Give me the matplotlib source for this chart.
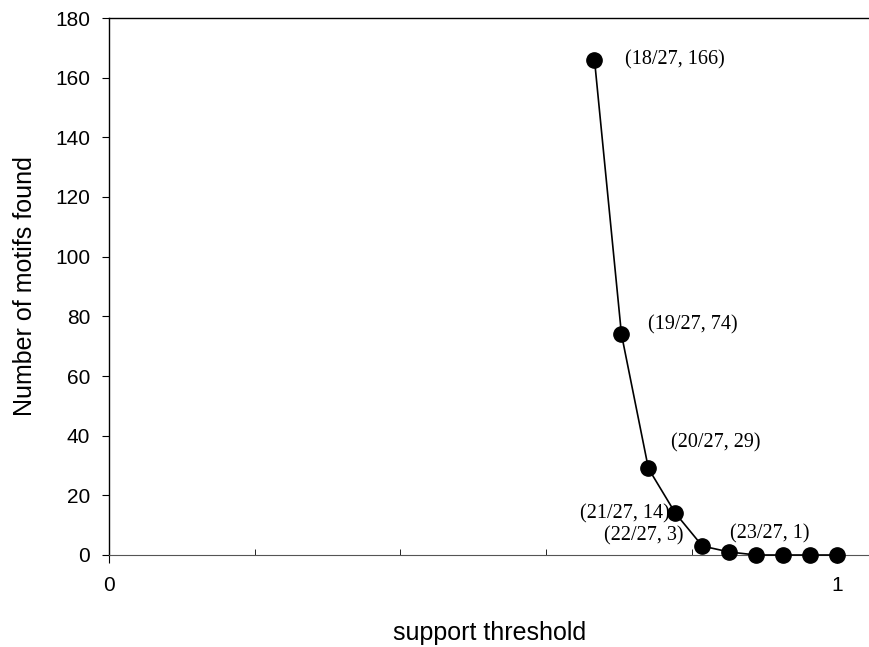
import matplotlib
matplotlib.use('Agg')
import matplotlib.pyplot as plt

# support threshold numerators (out of 27) and number of motifs found
numerators = [18, 19, 20, 21, 22, 23, 24, 25, 26, 27]
motifs = [166, 74, 29, 14, 3, 1, 0, 0, 0, 0]
total = 27

# which points get a label, and where the label sits (pixels from the point)
labeled = [18, 19, 20, 21, 22, 23]
label_offsets = {18: (31, 0, 'left'), 19: (27, 9, 'left'), 20: (23, 26, 'left'),
                 21: (-6, -1, 'right'), 22: (-19, 10, 'right'), 23: (1, 18, 'left')}

support = [n / total for n in numerators]

fig = plt.figure(figsize=(8.7, 6.47), dpi=100, facecolor='white')
ax = fig.add_axes([109 / 870, 92 / 647, 1 - 109 / 870, 537 / 647])

# the curve with filled dots
ax.plot(support, motifs, color='black', linewidth=1.2, marker='o',
        markersize=11, markerfacecolor='black', zorder=3, clip_on=False)

# point labels
for n, s, m in zip(numerators, support, motifs):
    if n not in labeled:
        continue
    dx, dy, ha = label_offsets[n]
    ax.annotate(f'({n}/{total}, {m})', xy=(s, m), xytext=(dx, dy),
                textcoords='offset pixels', ha=ha, va='center',
                fontsize=14.5, family='Liberation Serif')

# axes limits and ticks
ax.set_xlim(0, 1.045)
ax.set_ylim(0, 180)
ax.set_xticks([0, 1])
ax.set_xticks([0.2, 0.4, 0.6, 0.8], minor=True)
ax.set_yticks(range(0, 181, 20))
ax.tick_params(axis='x', which='major', direction='out', length=5.8, pad=9,
               labelsize=15)
ax.tick_params(axis='x', which='minor', direction='in', length=4.5)
ax.tick_params(axis='y', direction='out', length=5, pad=8.5, labelsize=15)
for lab in ax.get_xticklabels() + ax.get_yticklabels():
    lab.set_family('Liberation Sans')

ax.spines['right'].set_visible(False)
ax.spines['bottom'].set_color('#555555')
for side in ['left', 'top']:
    ax.spines[side].set_linewidth(1.0)

ax.set_xlabel('support threshold', fontsize=18, family='Liberation Sans',
              labelpad=19)
ax.set_ylabel('Number of motifs found', fontsize=18, family='Liberation Sans',
              labelpad=13)

fig.savefig('out.png', dpi=100, facecolor='white')
